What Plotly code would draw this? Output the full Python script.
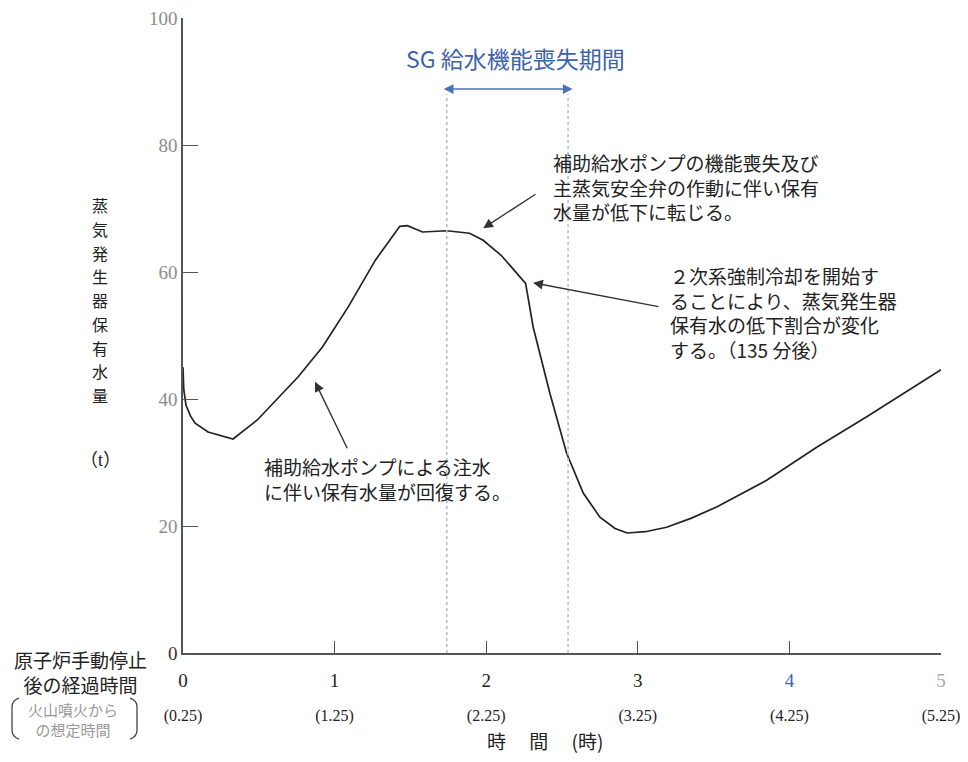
import plotly.graph_objects as go

# 経過時間 (時) と 蒸気発生器保有水量 (t)
hours = [0, 0.005, 0.02, 0.05, 0.08, 0.165, 0.33, 0.49, 0.76, 0.92, 1.09, 1.27,
         1.43, 1.48, 1.58, 1.74, 1.89, 1.98, 2.1, 2.26, 2.31, 2.42, 2.53, 2.64,
         2.75, 2.85, 2.93, 3.05, 3.19, 3.35, 3.52, 3.85, 4.18, 4.51, 5.0]
water = [45.0, 41.5, 39.0, 37.3, 36.2, 34.8, 33.7, 36.7, 43.5, 48.2, 54.5, 61.9,
         67.2, 67.3, 66.3, 66.5, 66.1, 65.0, 62.6, 58.2, 51.3, 40.9, 31.5, 25.2,
         21.4, 19.6, 18.9, 19.1, 19.8, 21.2, 23.0, 27.2, 32.4, 37.2, 44.6]

# SG 給水機能喪失期間
sg_start = 1.74
sg_end = 2.54

x_ticks = [0, 1, 2, 3, 4, 5]
x_main = ["0", "1", "2", "3", "<span style='color:#3d63ac'>4</span>", "<span style='color:#aaaaaa'>5</span>"]
x_sub = ["(0.25)", "(1.25)", "(2.25)", "(3.25)", "(4.25)", "(5.25)"]
y_ticks = [0, 20, 40, 60, 80, 100]

# ページ余白 8px を差し引いた寸法
PAGE = 8
W, H = 952, 746
L, T, PW, PH = 175, 10, 758, 635
R, B = W - L - PW, H - T - PH


def px(x):
    return (x - PAGE - L) / PW


def py(y):
    return (T + PH - (y - PAGE)) / PH


fig = go.Figure()

for xv in [sg_start, sg_end]:
    fig.add_shape(type="line", x0=xv, x1=xv, y0=0, y1=88, xref="x", yref="y",
                  line=dict(color="#a9c4dc", width=1.6, dash="dot"))

fig.add_trace(go.Scatter(x=hours, y=water, mode="lines",
                         line=dict(color="#222222", width=1.7), showlegend=False))

ticktext = [f"<span style='font-size:19px'>{a}</span><br><br><span style='font-size:16px'>{b}</span>"
            for a, b in zip(x_main, x_sub)]
y_text = ["<span style='color:#333'>0</span>"] + [str(v) for v in y_ticks[1:]]

serif = "Liberation Serif, Noto Sans CJK JP"
cjk = "Noto Sans CJK JP"

fig.update_xaxes(range=[0, 5], tickvals=x_ticks, ticktext=ticktext, ticks="inside", ticklen=12,
                 tickcolor="#555", showline=True, linecolor="#555", linewidth=1.5, automargin=False,
                 showgrid=False, zeroline=False, tickfont=dict(family=serif, size=13, color="#222"),
                 ticklabelstandoff=17, ticklabeloverflow="allow")
fig.update_yaxes(range=[0, 100], tickvals=y_ticks, ticktext=y_text, ticks="inside", ticklen=15,
                 tickcolor="#555", showline=True, linecolor="#555", linewidth=1.5, automargin=False,
                 showgrid=False, zeroline=False, tickfont=dict(family=serif, size=19, color="#8c8c8c"),
                 ticklabeloverflow="allow")

ann = []
# 期間の両矢印とタイトル
ann.append(dict(x=sg_end + 0.03, y=88.8, ax=sg_start - 0.03, ay=88.8, axref="x", ayref="y",
                xref="x", yref="y", text="", showarrow=True, arrowside="end+start",
                arrowhead=2, arrowsize=1.3, arrowwidth=1.5, arrowcolor="#4a72b8"))


def label(x, y, text, size, color="#222", family=cjk):
    return dict(x=px(x), y=py(y), xref="paper", yref="paper", xanchor="center", yanchor="middle",
                showarrow=False, text=text, font=dict(family=family, size=size, color=color))


ann.append(label(515, 58, "SG 給水機能喪失期間", 23, "#3d63ac"))

# 説明文
ann.append(dict(x=2.43, y=79.7, xref="x", yref="y", xanchor="left", yanchor="top", align="left",
                showarrow=False, font=dict(family=cjk, size=19, color="#222"),
                text="補助給水ポンプの機能喪失及び<br>主蒸気安全弁の作動に伴い保有<br>水量が低下に転じる。"))
ann.append(dict(x=3.2, y=61.9, xref="x", yref="y", xanchor="left", yanchor="top", align="left",
                showarrow=False, font=dict(family=cjk, size=19, color="#222"),
                text="２次系強制冷却を開始す<br>ることにより、蒸気発生器<br>保有水の低下割合が変化<br>する。（135 分後）"))
ann.append(dict(x=0.52, y=31.8, xref="x", yref="y", xanchor="left", yanchor="top", align="left",
                showarrow=False, font=dict(family=cjk, size=19, color="#222"),
                text="補助給水ポンプによる注水<br>に伴い保有水量が回復する。"))

# 説明文の矢印
for tip, tail in [((1.98, 66.9), (2.335, 72.4)), ((2.309, 58.3), (3.146, 54.5)),
                  ((0.871, 42.7), (1.088, 32.0))]:
    ann.append(dict(x=tip[0], y=tip[1], ax=tail[0], ay=tail[1], axref="x", ayref="y",
                    xref="x", yref="y", text="", showarrow=True, arrowhead=2,
                    arrowsize=1.4, arrowwidth=1.4, arrowcolor="#333"))

# 軸タイトル (縦書き: 1 文字ずつ配置)
for i, ch in enumerate("蒸気発生器保有水量"):
    ann.append(label(100, 205 + i * 23.75, ch, 16))
ann.append(label(100, 460, "（t）", 18, family=serif))
ann.append(label(545, 740, "時　 間　 (時)", 19))
ann.append(label(80, 672, "原子炉手動停止<br>後の経過時間", 19))
ann.append(label(73, 719, "火山噴火から<br>の想定時間", 15, "#999"))

fig.update_layout(annotations=ann)

# 括弧
fig.add_shape(type="path", xref="paper", yref="paper", line=dict(color="#444", width=1.3),
              path=f"M {px(19)} {py(698)} Q {px(12)} {py(700)} {px(12)} {py(707)} L {px(12)} {py(730)} "
                   f"Q {px(12)} {py(737)} {px(19)} {py(739)}")
fig.add_shape(type="path", xref="paper", yref="paper", line=dict(color="#444", width=1.3),
              path=f"M {px(130)} {py(698)} Q {px(137)} {py(700)} {px(137)} {py(707)} L {px(137)} {py(730)} "
                   f"Q {px(137)} {py(737)} {px(130)} {py(739)}")

fig.update_layout(width=W, height=H, margin=dict(l=L, r=R, t=T, b=B),
                  plot_bgcolor="white", paper_bgcolor="white")

fig.write_html("out.html")
